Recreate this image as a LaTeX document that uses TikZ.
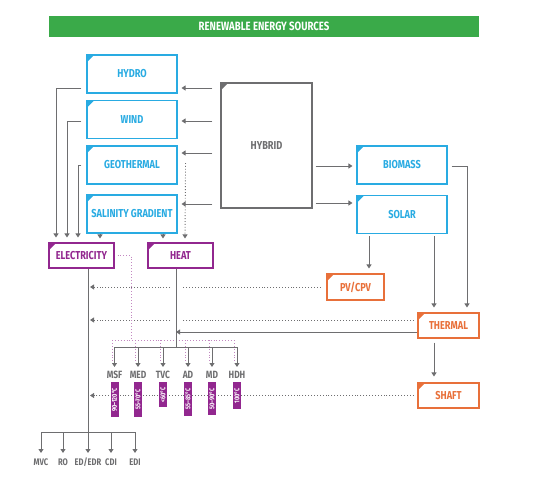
\documentclass[tikz,border=0pt]{standalone}
\usepackage{fontspec}
\newfontfamily\condfont{Fira Sans}[FakeStretch=0.8]
\usetikzlibrary{calc,positioning,arrows.meta}

\definecolor{resgreen}{RGB}{58,170,73}
\definecolor{resblue}{RGB}{41,171,226}
\definecolor{respurple}{RGB}{146,39,143}
\definecolor{resorange}{RGB}{232,112,58}
\definecolor{resgray}{RGB}{110,110,112}

\tikzset{
  corner/.style={path picture={\fill[#1] (path picture bounding box.north west)
      -- ++(7pt,0pt) -- ++(-7pt,-7pt) -- cycle;}},
  box/.style={draw=#1,text=#1,line width=1.1pt,corner=#1,inner sep=1pt,
      font=\condfont\bfseries\fontsize{11.5}{13}\selectfont},
  src/.style={box=resblue,minimum width=90pt,minimum height=38pt},
  sink/.style={box=respurple,minimum width=65pt,minimum height=25pt},
  prod/.style={box=resorange,minimum height=25pt},
  wire/.style={draw=resgray,line width=1pt},
  tip/.style={-{Triangle[width=5pt,length=4pt]}},
  conn/.style={wire,tip},
  dots/.style={draw=resgray,line width=0.9pt,dotted},
  edots/.style={draw=respurple!55,line width=0.9pt,dotted},
  tag/.style={text=resgray,inner sep=1pt,font=\condfont\bfseries\fontsize{10.5}{12}\selectfont},
  small/.style={tag,font=\condfont\bfseries\fontsize{9.5}{11}\selectfont},
  temp/.style={fill=respurple,text=white,rotate=90,anchor=east,minimum height=8pt,
      inner sep=0.4pt,font=\condfont\bfseries\fontsize{7}{8}\selectfont}
}

\begin{document}
\begin{tikzpicture}[x=1pt,y=-1pt]
  \useasboundingbox (0,0) rectangle (540,480);
  \node[fill=resgreen,text=white,minimum width=430pt,minimum height=21pt,
    font=\condfont\bfseries\fontsize{12}{14}\selectfont] (title) at (264,26.5) {RENEWABLE ENERGY SOURCES};

  % sources
  \node[src] (hydro) at (132,74) {HYDRO};
  \node[src] (wind) at (132,119.5) {WIND};
  \node[src] (geo) at (132,165) {GEOTHERMAL};
  \node[src] (salt) at (132,214) {SALINITY GRADIENT};
  \node[box=resgray,minimum width=91pt,minimum height=125pt] (hybrid) at (266.5,145.5) {HYBRID};
  \node[src] (bio) at (402,165) {BIOMASS};
  \node[src] (solar) at (402,214.5) {SOLAR};

  % energy forms
  \node[sink] (elec) at (81.5,255.5) {ELECTRICITY};
  \node[sink] (heat) at (180.5,255.5) {HEAT};
  \node[prod,minimum width=57pt,minimum height=26pt] (pv) at (355.5,287) {PV/CPV};
  \node[prod,minimum width=61pt] (thermal) at (448.5,325.5) {THERMAL};
  \node[prod,minimum width=61pt] (shaft) at (448.5,395.5) {SHAFT};

  % processes
  \node[tag] (msf) at (114.5,374.5) {MSF};
  \node[tag] (med) at (138,374.5) {MED};
  \node[tag] (tvc) at (163,374.5) {TVC};
  \node[tag] (ad) at (188,374.5) {AD};
  \node[tag] (md) at (212,374.5) {MD};
  \node[tag] (hdh) at (237,374.5) {HDH};
  \node[small] (mvc) at (41,462.5) {MVC};
  \node[small] (ro) at (63,462.5) {RO};
  \node[small] (eded) at (88,462.5) {ED/EDR};
  \node[small] (cdi) at (111,462.5) {CDI};
  \node[small] (edi) at (135,462.5) {EDI};

  \coordinate (etop) at ($(elec.south)+(6.5,0)$);
  \coordinate (esplit) at (etop |- 0,432);
  \coordinate (htop) at ($(heat.south)+(-4.5,0)$);
  \coordinate (hsplit) at (htop |- 0,347);
  \coordinate (dsplit) at (131,340);

  % hybrid links
  \foreach \n/\y in {hydro/88,wind/121,geo/153,salt/204}
    \draw[conn] ($(hybrid.west |- 0,\y)+(-8,0)$) -- ($(\n.east |- 0,\y)+(4,0)$);
  \draw[conn] ($(hybrid.east |- 0,166)+(3,0)$) -- ($(bio.west |- 0,166)+(-4,0)$);
  \draw[conn] ($(hybrid.east |- 0,203)+(3,0)$) -- ($(solar.west |- 0,203)+(-4,0)$);

  % sources to electricity and heat
  \draw[conn] ($(hydro.west |- 0,88)+(-5,0)$) -| ($(elec.north)+(-25.5,-5)$);
  \draw[conn] ($(wind.west |- 0,121)+(-5,0)$) -| ($(elec.north)+(-14.5,-5)$);
  \draw[conn] ($(geo.west)+(-5,0)$) -| ($(elec.north)+(-3.5,-5)$);
  \draw[conn] (salt.south -| 100,0) -- ($(elec.north -| 100,0)+(0,-4)$);
  \draw[conn] (salt.south -| 163,0) -- ($(heat.north -| 163,0)+(0,-4)$);
  \draw[dots,tip] ($(geo.east)+(8,-2)$) -- ($(heat.north -| 185,0)+(0,-4)$);
  \draw[conn] ($(bio.east)+(4,1)$) -| ($(thermal.north -| 467,0)+(0,-5)$);
  \draw[conn] ($(solar.south -| 369,0)+(0,2)$) -- ($(pv.north -| 369,0)+(0,-5)$);
  \draw[conn] ($(solar.south -| 434,0)+(0,2)$) -- ($(thermal.north -| 434,0)+(0,-5)$);
  \draw[conn] ($(thermal.south -| 434,0)+(0,4)$) -- ($(shaft.north -| 434,0)+(0,-6)$);

  % back to electricity
  \draw[dots] ($(pv.west)+(-6,0)$) -- ($(htop |- pv)+(6,0)$);
  \draw[dots,tip] ($(htop |- pv)+(-6,0)$) -- ($(etop |- pv)+(2,0)$);
  \draw[dots] ($(thermal.west)+(-4,-5.5)$) -- ($(htop |- 0,320)+(6,0)$);
  \draw[dots,tip] ($(htop |- 0,320)+(-6,0)$) -- ($(etop |- 0,320)+(2,0)$);
  \draw[dots,tip] ($(shaft.west)+(-4,0)$) -- ($(etop |- shaft)+(2,0)$);
  \draw[conn] ($(thermal.west)+(0,6.5)$) -- (htop |- 0,332);

  % electricity driven
  \draw[wire] (etop) -- (esplit);
  \draw[wire] (mvc |- esplit) -- (edi |- esplit);
  \foreach \n in {mvc,ro,eded,cdi,edi}
    \draw[conn] (\n |- esplit) -- (\n |- 0,453);

  % heat driven
  \draw[edots] ($(elec.east)+(3,0)$) -| (dsplit);
  \draw[edots] ($(msf |- dsplit)+(-2.5,0)$) -- ($(hdh |- dsplit)+(-2.5,0)$);
  \foreach \n in {msf,med,tvc,ad,md,hdh}
    \draw[edots] ($(\n |- dsplit)+(-2.5,0)$) -- ($(\n |- 0,363)+(-2.5,0)$);
  \draw[wire] (htop) -- (hsplit);
  \draw[wire] (msf |- hsplit) -- (hdh |- hsplit);
  \foreach \n in {msf,med,tvc,ad,md,hdh}
    \draw[conn] (\n |- hsplit) -- (\n |- 0,367);

  % temperatures
  \foreach \n/\t/\w in {msf/90–120°C/35,med/55–70°C/35,tvc/<60°C/25,ad/55–85°C/34,md/50–90°C/33,hdh/100°C/27}
    \node[temp,minimum width=\w pt] (t\n) at (\n |- 0,382) {\t};
\end{tikzpicture}
\end{document}
